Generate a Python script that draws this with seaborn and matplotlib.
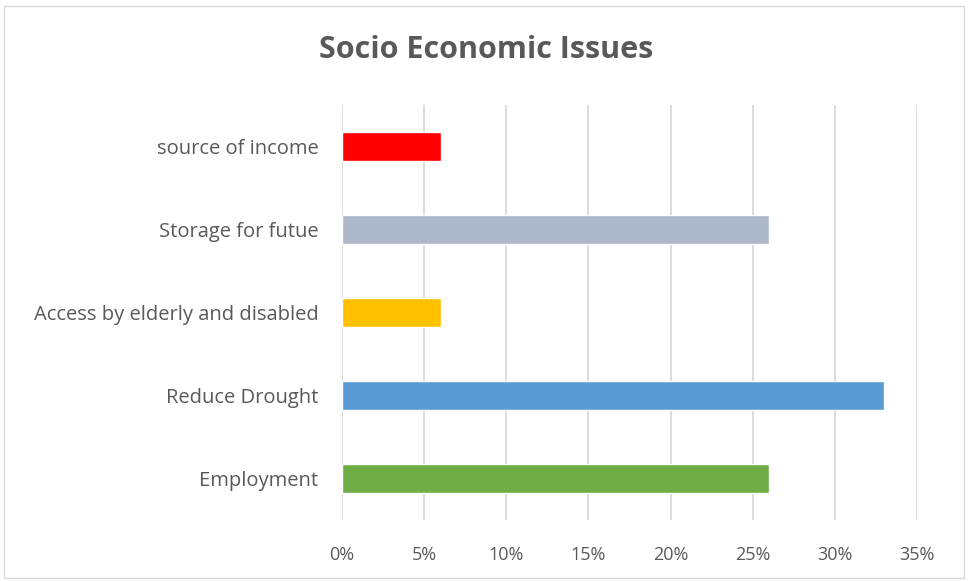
import matplotlib
matplotlib.use("Agg")
import matplotlib.pyplot as plt
import seaborn as sns
import pandas as pd
from matplotlib.ticker import FuncFormatter
from matplotlib.patches import Rectangle

categories = ["source of income", "Storage for futue", "Access by elderly and disabled",
              "Reduce Drought", "Employment"]
values = [6, 26, 6, 33, 26]
colors = ["#FF0000", "#ADB9CA", "#FFC000", "#5B9BD5", "#70AD47"]
x_ticks = [0, 5, 10, 15, 20, 25, 30, 35]

sns.set_theme(style="white")
plt.rcParams["font.family"] = ["Open Sans", "DejaVu Sans"]

df = pd.DataFrame({"category": categories, "value": values})

fig = plt.figure(figsize=(9.69, 5.81), dpi=100)
ax = fig.add_axes([342/969, 1-520/581, (917-342)/969, (520-105)/581])

sns.barplot(data=df, y="category", x="value", hue="category", palette=colors,
            order=categories, hue_order=categories, width=0.36, legend=False,
            saturation=1, ax=ax)

ax.set_xlim(0, 35)
ax.set_xticks(x_ticks)
ax.xaxis.set_major_formatter(FuncFormatter(lambda v, p: f"{v:.0f}%"))
ax.grid(axis="x", color="#D9D9D9", linewidth=1.3)
ax.grid(axis="y", visible=False)
ax.set_axisbelow(True)
for s in ax.spines.values():
    s.set_visible(False)
ax.set_xlabel("")
ax.set_ylabel("")
ax.tick_params(axis="both", length=0, colors="#595959")
ax.tick_params(axis="x", pad=19, labelsize=13)
ax.tick_params(axis="y", pad=17, labelsize=14.5)

fig.text(486/969, 1 - 50/581, "Socio Economic Issues",
         ha="center", va="center", fontsize=22, fontweight="bold", color="#595959")

fig.patches.append(Rectangle((4/969, 3/581), 960/969, 572/581, transform=fig.transFigure,
                             fill=False, edgecolor="#D9D9D9", linewidth=1))

fig.savefig("out.png", dpi=100)
